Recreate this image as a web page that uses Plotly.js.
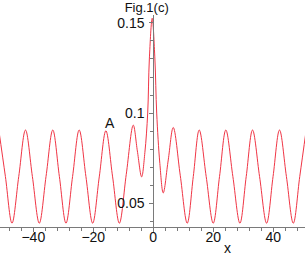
<!DOCTYPE html>
<html>
<head>
<meta charset="utf-8">
<script src="https://cdn.plot.ly/plotly-3.0.1.min.js"></script>
<style>
html,body{margin:0;padding:0;background:#fff;}
#chart{width:305px;height:255px;}
</style>
</head>
<body>
<div id="chart"></div>
<script>
// Key points (peaks, troughs, mid crossings)
var curveX = [-51.5, -49.3, -47.1, -44.85, -42.6, -40.3, -38.0, -35.75, -33.5, -31.3,
              -29.1, -26.9, -24.7, -22.45, -20.2, -18.0, -15.8, -13.55, -11.3, -9.0,
              -6.67, -5.3, -3.87, -2.8, -1.85, -1.3, -0.35, 0.55, 1.15, 2.2,
              3.33, 5.0, 6.67, 9.0, 11.33, 13.35, 15.33, 17.65, 20.0, 22.1,
              24.2, 26.55, 28.9, 31.0, 33.1, 35.45, 37.8, 39.95, 42.1, 44.4,
              46.7, 48.85, 51.0];
var curveY = [0.0906, 0.0648, 0.0389, 0.0648, 0.0906, 0.0648, 0.0389, 0.0648, 0.0906, 0.0648,
              0.0389, 0.0648, 0.0906, 0.0648, 0.0389, 0.0646, 0.0902, 0.0646, 0.0389, 0.0660,
              0.0933, 0.0790, 0.0646, 0.0780, 0.1000, 0.1300, 0.1526, 0.1300, 0.1000, 0.0720,
              0.0557, 0.0740, 0.0920, 0.0655, 0.0389, 0.0648, 0.0906, 0.0648, 0.0389, 0.0648,
              0.0906, 0.0648, 0.0389, 0.0648, 0.0906, 0.0648, 0.0389, 0.0648, 0.0906, 0.0648,
              0.0389, 0.0648, 0.0906];

var xTickVals = [-40, -20, 0, 20, 40];
var xTickText = ["\u221240", "\u221220", "0", "20", "40"];
var yTickVals = [0.05, 0.1, 0.15];
var yTickText = ["0.05", "0.1", "0.15"];
var titleText = "Fig.1(c)";
var xLabel = "x";
var pointLabel = "A";
var pointLabelX = -14.4;
var pointLabelY = 0.0944;

var axisColor = "#7a7a7a";
var fontFam = "Liberation Sans, Arial, sans-serif";

var trace = {
  x: curveX, y: curveY, type: "scatter", mode: "lines",
  line: {color: "#f03545", width: 1, shape: "spline", smoothing: 1},
  hoverinfo: "skip"
};

var layout = {
  width: 305, height: 255,
  margin: {l: 0, r: 0, t: 15, b: 28, pad: 0},
  paper_bgcolor: "#fff", plot_bgcolor: "#fff",
  showlegend: false,
  font: {family: fontFam, size: 14, color: "#111"},
  title: {text: titleText, x: 0.481, xanchor: "center", y: 0.972, yanchor: "middle",
          font: {family: fontFam, size: 13, color: "#111"}},
  xaxis: {
    range: [-51.1, 50.6], showgrid: false, zeroline: false,
    showline: true, linecolor: axisColor, linewidth: 1,
    ticks: "outside", ticklen: 4, tickcolor: axisColor, tickwidth: 1,
    tickmode: "array", tickvals: xTickVals, ticktext: xTickText,
    tickfont: {family: fontFam, size: 14, color: "#111"},
    ticklabelstandoff: -7,
    minor: {dtick: 4, tick0: 0, ticks: "outside", ticklen: 3, tickcolor: axisColor, showgrid: false},
    fixedrange: true
  },
  yaxis: {
    range: [0.0368, 0.1544], showgrid: false, zeroline: false,
    anchor: "free", position: 0.5026, side: "left",
    showline: true, linecolor: axisColor, linewidth: 1,
    ticks: "outside", ticklen: 4, tickcolor: axisColor, tickwidth: 1,
    tickmode: "array", tickvals: yTickVals, ticktext: yTickText,
    tickfont: {family: fontFam, size: 14, color: "#111"},
    ticklabelstandoff: 2,
    minor: {dtick: 0.01, tick0: 0, ticks: "outside", ticklen: 3, tickcolor: axisColor, showgrid: false},
    fixedrange: true
  },
  annotations: [
    {x: pointLabelX, y: pointLabelY, xref: "x", yref: "y", text: pointLabel, showarrow: false,
     xanchor: "center", yanchor: "middle", font: {family: fontFam, size: 14, color: "#111"}},
    {x: 24.6, y: -0.099, xref: "x", yref: "paper", text: xLabel, showarrow: false,
     xanchor: "center", yanchor: "middle", font: {family: fontFam, size: 14, color: "#111"}}
  ]
};

Plotly.newPlot("chart", [trace], layout, {staticPlot: true, displayModeBar: false});
</script>
</body>
</html>
